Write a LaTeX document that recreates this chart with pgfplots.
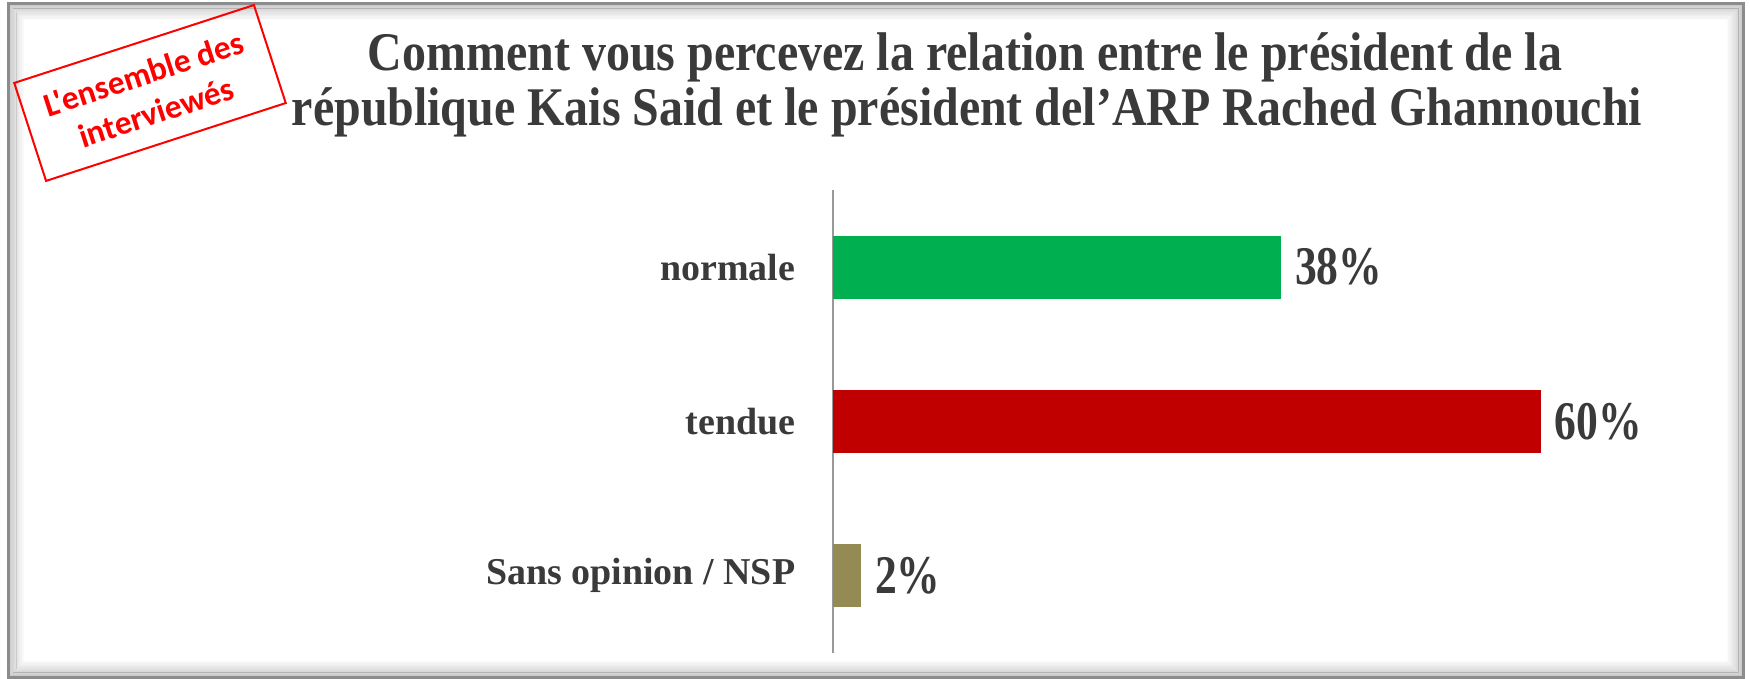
\documentclass[border=0pt]{standalone}
\usepackage{pgfplots}
\pgfplotsset{compat=1.18}
\usepackage{graphicx}
\usepackage{fontspec}
\setmainfont{Liberation Serif}
\newfontfamily\carlito{Carlito}
\definecolor{txt}{HTML}{3A3A3A}
\definecolor{cgreen}{HTML}{00B050}
\definecolor{cred}{HTML}{C00000}
\definecolor{ctan}{HTML}{948A54}
\begin{document}
\begin{tikzpicture}
\useasboundingbox (0,0) rectangle (175mm,67.8mm);
\begin{scope}[x=0.1mm,y=0.1mm]
  \foreach \i [evaluate=\i as \op using 0.22*(1-\i/13)] in {1,...,12} {
    \draw[black, opacity=\op, line width=0.14mm] (8+\i*1.3, 1+\i*1.3) rectangle (1743-\i*1.3, 674-\i*1.3);
  }
  \draw[black!45, line width=0.3mm] (8,1) rectangle (1743,674);
  \node[anchor=base, text=txt, inner sep=0pt, font=\fontsize{15.5}{18}\selectfont\bfseries] at (965,607)
    {\scalebox{0.88}[1]{Comment vous percevez la relation entre le président de la}};
  \node[anchor=base, text=txt, inner sep=0pt, font=\fontsize{15.5}{18}\selectfont\bfseries] at (967,552)
    {\scalebox{0.88}[1]{république Kais Said et le président del’ARP Rached Ghannouchi}};
  \begin{scope}[shift={(150,585)}, rotate=18]
    \draw[red, line width=0.2mm] (-126,-51.5) rectangle (126,51.5);
    \node[transform shape, text=red, align=center, inner sep=0pt, font=\carlito\bfseries\fontsize{9.5}{11.5}\selectfont] at (0,0) {L'ensemble des\\interviewés};
  \end{scope}
\end{scope}
\begin{axis}[
  at={(83.3mm,2.5mm)}, anchor=south west,
  scale only axis, width=88.5mm, height=46.3mm,
  xbar, bar width=6.3mm,
  xmin=0, xmax=75, ymin=-0.5, ymax=2.5,
  axis x line=none, axis y line*=left,
  y axis line style={draw=black!40, line width=0.15mm},
  ytick={0,1,2}, yticklabels={Sans opinion / NSP, tendue, normale},
  major tick length=0pt,
  yticklabel style={anchor=east, inner sep=0pt, xshift=-3.7mm, text=txt, font=\fontsize{10.8}{13}\selectfont\bfseries},
  point meta=explicit symbolic,
  nodes near coords={\scalebox{0.8}[1]{\pgfplotspointmeta\%}},
  nodes near coords style={anchor=west, inner sep=0pt, xshift=1.3mm, text=txt, font=\fontsize{15.5}{18}\selectfont\bfseries},
  clip=false,
]
\addplot[fill=cgreen, draw=none, bar shift=0pt] coordinates {(38,2) [38]};
\addplot[fill=cred, draw=none, bar shift=0pt] coordinates {(60,1) [60]};
\addplot[fill=ctan, draw=none, bar shift=0pt] coordinates {(2.4,0) [2]};
\end{axis}
\end{tikzpicture}
\end{document}
